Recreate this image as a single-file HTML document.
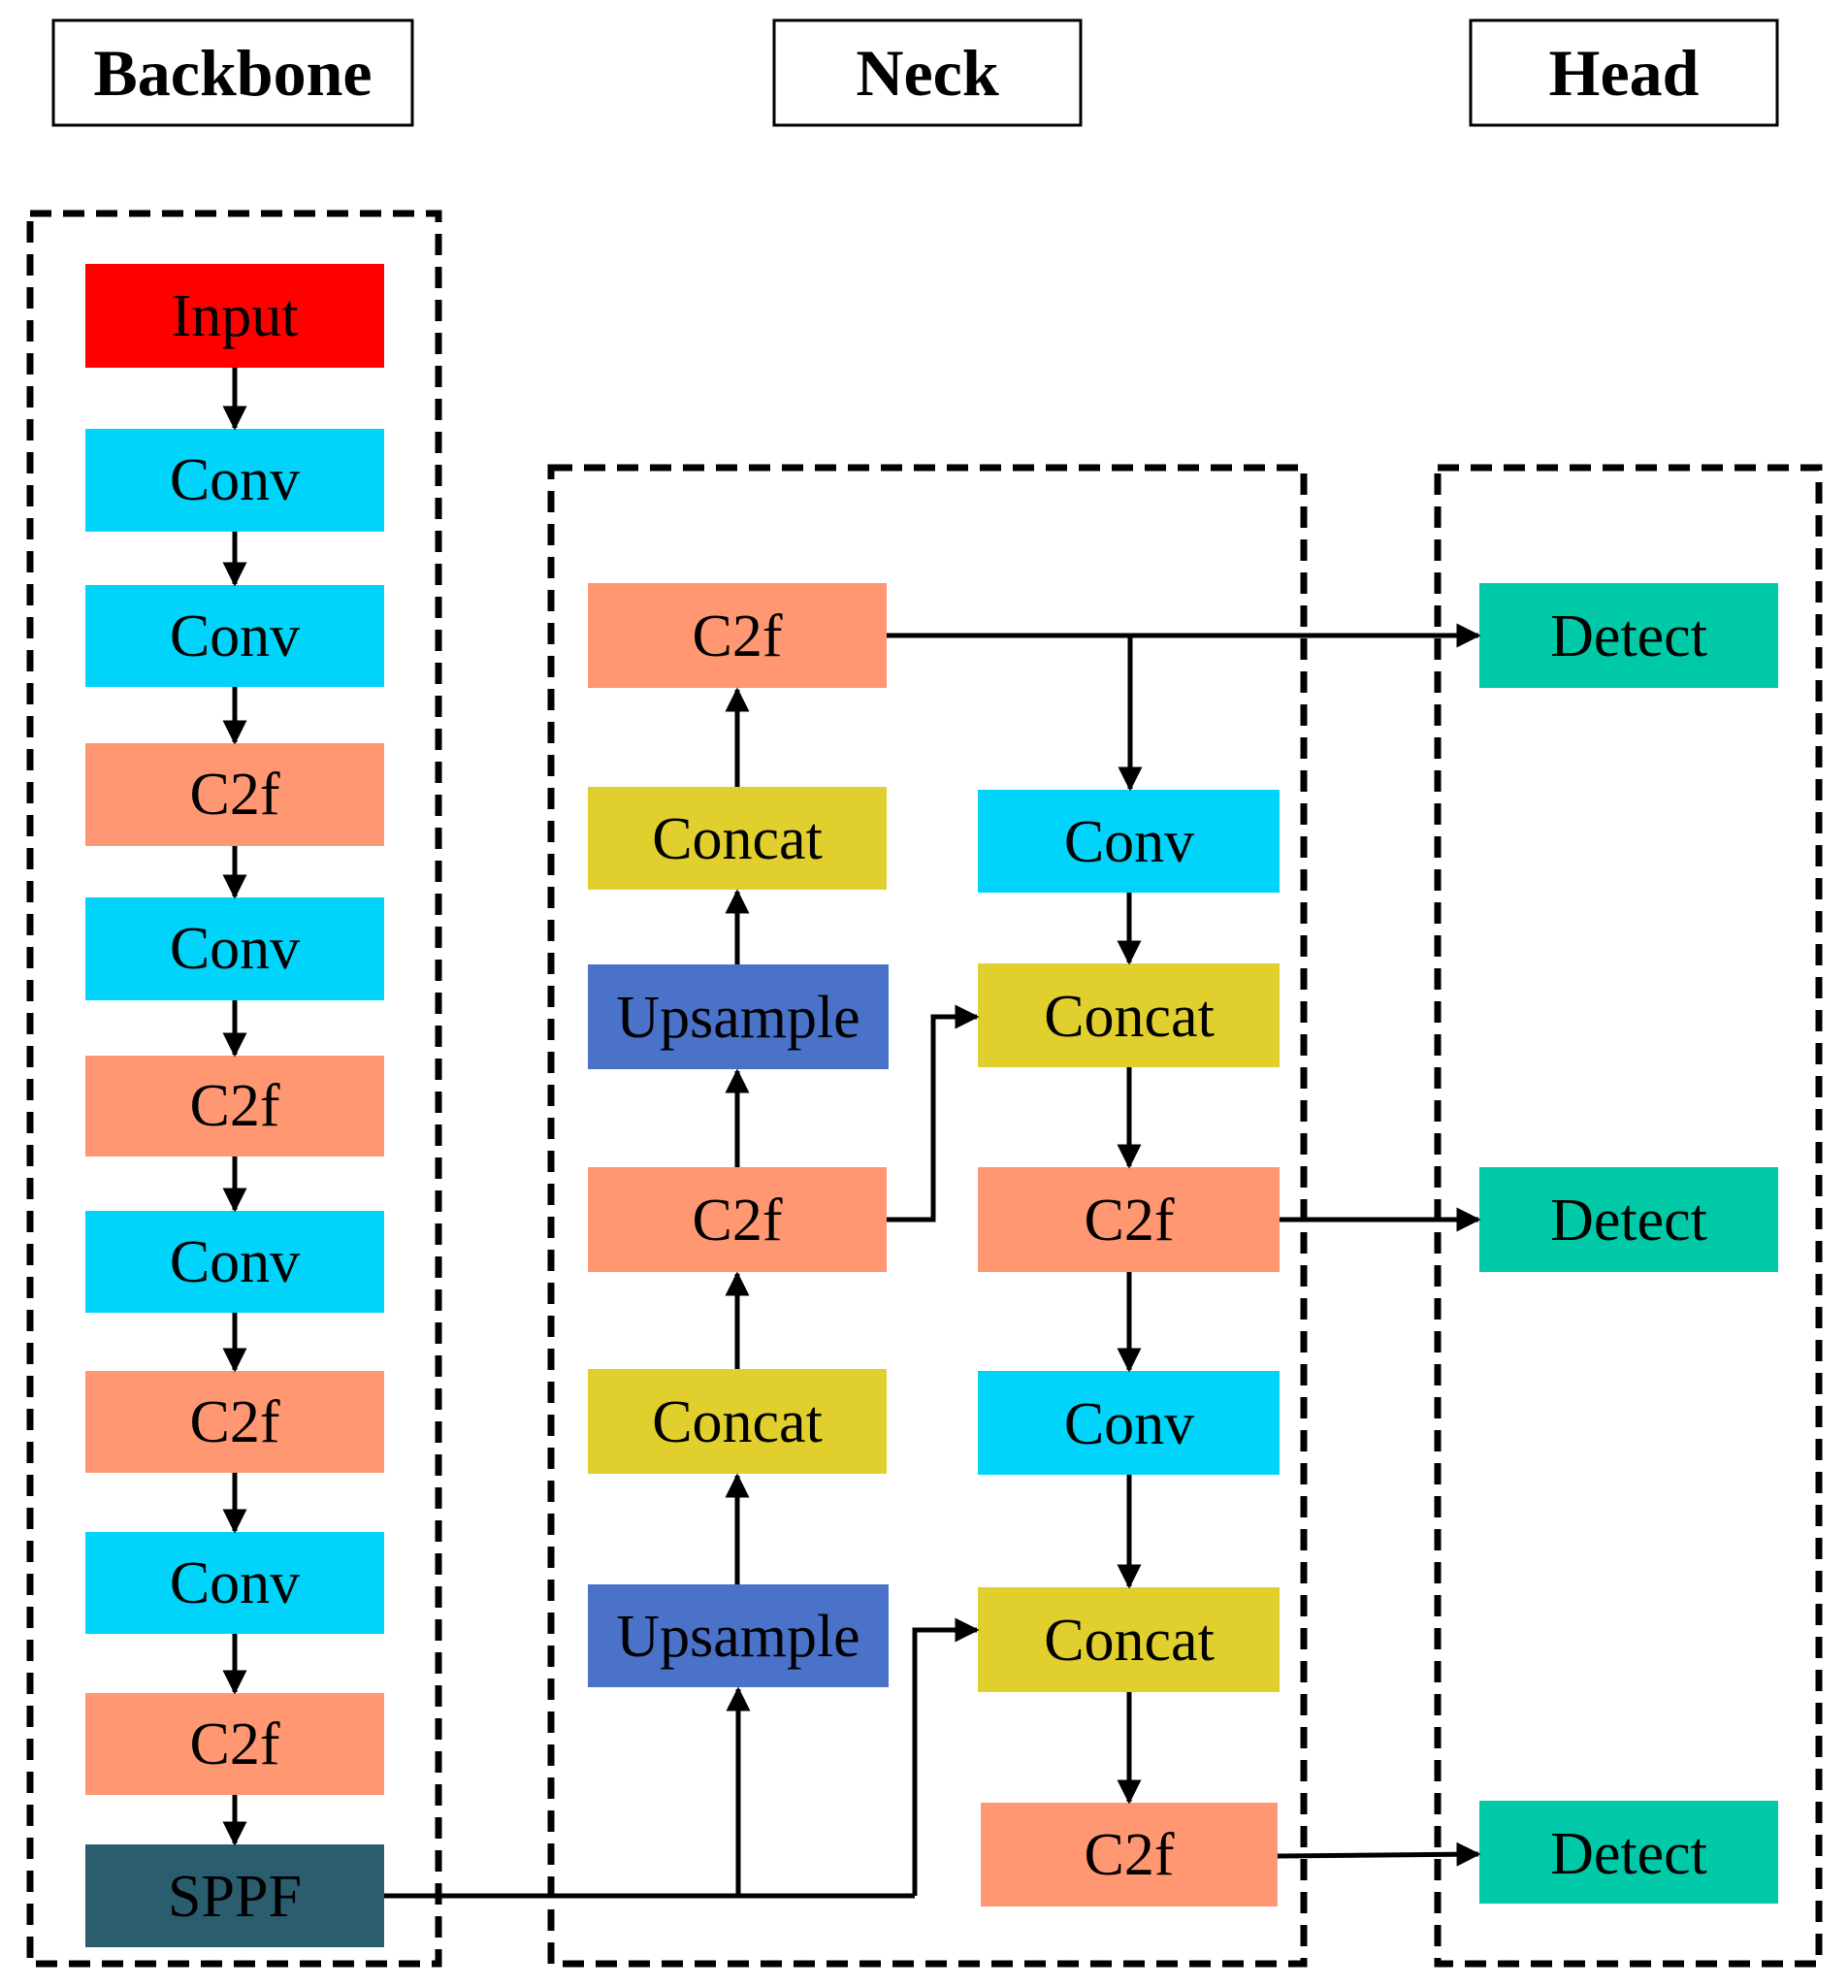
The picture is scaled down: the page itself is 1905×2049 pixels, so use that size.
<!DOCTYPE html>
<html><head><meta charset="utf-8"><style>
html,body{margin:0;padding:0;background:#fff;}
svg{display:block;}
text{font-family:"Liberation Serif",serif;}
</style></head><body>
<svg width="1905" height="2049" viewBox="0 0 1905 2049" xmlns="http://www.w3.org/2000/svg">
<defs>
<marker id="a" markerWidth="5" markerHeight="5" refX="4.5" refY="2.5" orient="auto" markerUnits="strokeWidth">
<path d="M0,0 L5,2.5 L0,5 z" fill="#000"/></marker>
</defs>
<!-- title boxes -->
<g fill="#fff" stroke="#000" stroke-width="3">
<rect x="55" y="21" width="370" height="108"/>
<rect x="798" y="21" width="316" height="108"/>
<rect x="1516" y="21" width="316" height="108"/>
</g>
<g font-weight="bold" font-size="68" text-anchor="middle">
<text x="240" y="98">Backbone</text>
<text x="956" y="98">Neck</text>
<text x="1674" y="98">Head</text>
</g>
<!-- dashed groups -->
<g fill="none" stroke="#000" stroke-width="7" stroke-dasharray="22,12">
<rect x="31" y="220" width="421" height="1804"/>
<rect x="568" y="482" width="776" height="1542"/>
<rect x="1482" y="482" width="393" height="1542"/>
</g>
<!-- backbone boxes -->
<g>
<rect x="88" y="272" width="308" height="107" fill="#ff0000"/>
<rect x="88" y="442" width="308" height="106" fill="#00d4fa"/>
<rect x="88" y="603" width="308" height="105" fill="#00d4fa"/>
<rect x="88" y="766" width="308" height="106" fill="#ff9872"/>
<rect x="88" y="925" width="308" height="106" fill="#00d4fa"/>
<rect x="88" y="1088" width="308" height="104" fill="#ff9872"/>
<rect x="88" y="1248" width="308" height="105" fill="#00d4fa"/>
<rect x="88" y="1413" width="308" height="105" fill="#ff9872"/>
<rect x="88" y="1579" width="308" height="105" fill="#00d4fa"/>
<rect x="88" y="1745" width="308" height="105" fill="#ff9872"/>
<rect x="88" y="1901" width="308" height="106" fill="#2a5e6f"/>
</g>
<g font-size="62" text-anchor="middle" fill="#000">
<text x="242" y="346">Input</text>
<text x="242" y="515">Conv</text>
<text x="242" y="676">Conv</text>
<text x="242" y="839">C2f</text>
<text x="242" y="998">Conv</text>
<text x="242" y="1160">C2f</text>
<text x="242" y="1321">Conv</text>
<text x="242" y="1486">C2f</text>
<text x="242" y="1652">Conv</text>
<text x="242" y="1818">C2f</text>
<text x="242" y="1975">SPPF</text>
</g>
<!-- backbone arrows -->
<g stroke="#000" stroke-width="5" marker-end="url(#a)">
<line x1="242" y1="379" x2="242" y2="441"/>
<line x1="242" y1="548" x2="242" y2="602"/>
<line x1="242" y1="708" x2="242" y2="765"/>
<line x1="242" y1="872" x2="242" y2="924"/>
<line x1="242" y1="1031" x2="242" y2="1087"/>
<line x1="242" y1="1192" x2="242" y2="1247"/>
<line x1="242" y1="1353" x2="242" y2="1412"/>
<line x1="242" y1="1518" x2="242" y2="1578"/>
<line x1="242" y1="1684" x2="242" y2="1744"/>
<line x1="242" y1="1850" x2="242" y2="1900"/>
</g>
<!-- neck boxes -->
<g>
<rect x="606" y="601" width="308" height="108" fill="#ff9872"/>
<rect x="606" y="811" width="308" height="106" fill="#e0cf2c"/>
<rect x="606" y="994" width="310" height="108" fill="#4a72c8"/>
<rect x="606" y="1203" width="308" height="108" fill="#ff9872"/>
<rect x="606" y="1411" width="308" height="108" fill="#e0cf2c"/>
<rect x="606" y="1633" width="310" height="106" fill="#4a72c8"/>
<rect x="1008" y="814" width="311" height="106" fill="#00d4fa"/>
<rect x="1008" y="993" width="311" height="107" fill="#e0cf2c"/>
<rect x="1008" y="1203" width="311" height="108" fill="#ff9872"/>
<rect x="1008" y="1413" width="311" height="107" fill="#00d4fa"/>
<rect x="1008" y="1636" width="311" height="108" fill="#e0cf2c"/>
<rect x="1011" y="1858" width="306" height="107" fill="#ff9872"/>
</g>
<g font-size="62" text-anchor="middle" fill="#000">
<text x="760" y="676">C2f</text>
<text x="760" y="885">Concat</text>
<text x="761" y="1069">Upsample</text>
<text x="760" y="1278">C2f</text>
<text x="760" y="1486">Concat</text>
<text x="761" y="1707">Upsample</text>
<text x="1164" y="888">Conv</text>
<text x="1164" y="1068">Concat</text>
<text x="1164" y="1278">C2f</text>
<text x="1164" y="1488">Conv</text>
<text x="1164" y="1711">Concat</text>
<text x="1164" y="1932">C2f</text>
</g>
<!-- head boxes -->
<g fill="#00c9a7">
<rect x="1525" y="601" width="308" height="108"/>
<rect x="1525" y="1203" width="308" height="108"/>
<rect x="1525" y="1856" width="308" height="106"/>
</g>
<g font-size="62" text-anchor="middle" fill="#000">
<text x="1679" y="676">Detect</text>
<text x="1679" y="1278">Detect</text>
<text x="1679" y="1931">Detect</text>
</g>
<!-- neck connectors -->
<g stroke="#000" stroke-width="5" fill="none">
<polyline points="396,1954 943,1954"/>
<line x1="761" y1="1954" x2="761" y2="1741" marker-end="url(#a)"/>
<polyline points="943,1954 943,1680 1007,1680" marker-end="url(#a)"/>
<line x1="760" y1="1411" x2="760" y2="1313" marker-end="url(#a)"/>
<line x1="760" y1="1633" x2="760" y2="1521" marker-end="url(#a)"/>
<line x1="760" y1="1203" x2="760" y2="1104" marker-end="url(#a)"/>
<line x1="760" y1="994" x2="760" y2="919" marker-end="url(#a)"/>
<line x1="760" y1="811" x2="760" y2="711" marker-end="url(#a)"/>
<polyline points="914,1257 962,1257 962,1048 1007,1048" marker-end="url(#a)"/>
<line x1="914" y1="655" x2="1524" y2="655" marker-end="url(#a)"/>
<line x1="1165" y1="655" x2="1165" y2="813" marker-end="url(#a)"/>
<line x1="1164" y1="920" x2="1164" y2="992" marker-end="url(#a)"/>
<line x1="1164" y1="1100" x2="1164" y2="1202" marker-end="url(#a)"/>
<line x1="1164" y1="1311" x2="1164" y2="1412" marker-end="url(#a)"/>
<line x1="1164" y1="1520" x2="1164" y2="1635" marker-end="url(#a)"/>
<line x1="1164" y1="1744" x2="1164" y2="1857" marker-end="url(#a)"/>
<line x1="1319" y1="1257" x2="1524" y2="1257" marker-end="url(#a)"/>
<line x1="1317" y1="1913" x2="1524" y2="1911" marker-end="url(#a)"/>
</g>
</svg>
</body></html>
